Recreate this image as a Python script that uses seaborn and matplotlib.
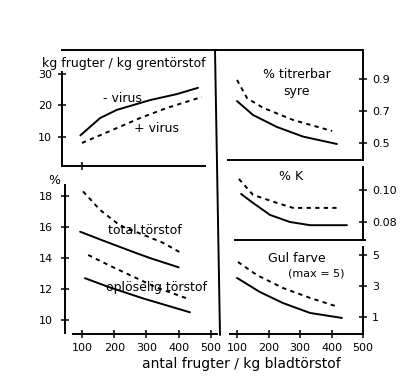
import matplotlib
matplotlib.use("Agg")
import matplotlib.pyplot as plt
from matplotlib.lines import Line2D
import seaborn as sns

W, H = 418, 388

# kg frugter / kg grentørstof
tl_minus_x = [95, 156, 208, 311, 394, 460]
tl_minus_y = [10.5, 16.0, 18.6, 21.7, 23.6, 25.6]
tl_plus_x = [100, 187, 280, 363, 472]
tl_plus_y = [8.1, 11.9, 16.0, 19.2, 22.7]

# % total / opløselig tørstof
total_solid_x = [94, 156, 258, 311, 400]
total_solid_y = [15.7, 15.2, 14.4, 14.0, 13.4]
total_dash_x = [103, 156, 218, 350, 410]
total_dash_y = [18.3, 17.1, 16.1, 15.0, 14.3]
sol_dash_x = [119, 187, 331, 425]
sol_dash_y = [14.2, 13.5, 12.1, 11.4]
sol_solid_x = [109, 187, 289, 435]
sol_solid_y = [12.7, 12.1, 11.4, 10.5]

# % titrerbar syre
tit_solid_x = [100, 151, 227, 310, 417]
tit_solid_y = [0.762, 0.675, 0.60, 0.54, 0.494]
tit_dash_x = [100, 132, 183, 278, 402]
tit_dash_y = [0.894, 0.78, 0.72, 0.644, 0.575]

# % K
k_solid_x = [113, 151, 205, 268, 332, 449]
k_solid_y = [0.0975, 0.0919, 0.0844, 0.080, 0.078, 0.078]
k_dash_x = [106, 151, 227, 278, 421]
k_dash_y = [0.1069, 0.0969, 0.0919, 0.0888, 0.0888]

# Gul farve
gul_solid_x = [100, 173, 246, 332, 433]
gul_solid_y = [3.52, 2.61, 1.9, 1.26, 0.94]
gul_dash_x = [103, 163, 246, 332, 421]
gul_dash_y = [4.55, 3.71, 2.87, 2.23, 1.65]

X_TICKS = [100, 200, 300, 400, 500]
DASH = (0, (2.2, 2.2))


def box(left, top, right, bottom):
    return [left / W, 1 - bottom / H, (right - left) / W, (bottom - top) / H]


def style(ax):
    for s in ax.spines.values():
        s.set_visible(False)
        s.set_linewidth(1.4)
        s.set_color("black")
    ax.tick_params(direction="inout", length=6, width=1.1, labelsize=8,
                   colors="black", labelcolor="black")
    ax.set_xticks([])
    ax.set_yticks([])
    ax.set_xlabel("")
    ax.set_ylabel("")
    ax.patch.set_alpha(0)


def line(ax, x, y, dashed=False):
    sns.lineplot(x=x, y=y, ax=ax, color="black", linewidth=1.4,
                 linestyle=DASH if dashed else "-")


def ftext(x, y, s, size=9, ha="center"):
    fig.text(x / W, 1 - y / H, s, fontsize=size, ha=ha, va="center", color="black")


sns.set_theme(style="white")
plt.rcParams["font.family"] = ["DejaVu Sans"]
fig = plt.figure(figsize=(W / 100, H / 100), dpi=100)

# top left
ax1 = fig.add_axes(box(62, 50, 217, 166))
line(ax1, tl_minus_x, tl_minus_y)
line(ax1, tl_plus_x, tl_plus_y, dashed=True)
style(ax1)
ax1.set_xlim(38, 519)
ax1.set_ylim(0.8, 37.6)
ax1.spines["left"].set_visible(True)
ax1.spines["left"].set_bounds(0.8, 30.6)
ax1.spines["top"].set_visible(True)
ax1.spines["bottom"].set_visible(True)
ax1.spines["bottom"].set_bounds(38, 481)
ax1.set_yticks([10, 20, 30])
ax1.set_xticks([100], labels=[""])
ax1.tick_params(left=True, bottom=True, pad=4)

# bottom left
ax3 = fig.add_axes(box(65, 166, 217, 334))
line(ax3, total_solid_x, total_solid_y)
line(ax3, total_dash_x, total_dash_y, dashed=True)
line(ax3, sol_dash_x, sol_dash_y, dashed=True)
line(ax3, sol_solid_x, sol_solid_y)
style(ax3)
ax3.set_xlim(47, 519)
ax3.set_ylim(9.1, 19.94)
ax3.spines["left"].set_visible(True)
ax3.spines["left"].set_bounds(9.16, 18.7)
ax3.spines["bottom"].set_visible(True)
ax3.spines["bottom"].set_bounds(72, 519)
ax3.set_yticks([10, 12, 14, 16, 18])
ax3.set_xticks(X_TICKS)
ax3.tick_params(left=True, bottom=True)
ax3.tick_params(axis="y", pad=6)

# right: titrerbar syre
ax2 = fig.add_axes(box(217, 50, 363, 160))
line(ax2, tit_solid_x, tit_solid_y)
line(ax2, tit_dash_x, tit_dash_y, dashed=True)
style(ax2)
ax2.set_xlim(36.5, 500)
ax2.set_ylim(0.394, 1.081)
ax2.spines["top"].set_visible(True)
ax2.spines["right"].set_visible(True)
ax2.spines["bottom"].set_visible(True)
ax2.spines["bottom"].set_bounds(71, 500)
ax2.yaxis.tick_right()
ax2.set_yticks([0.5, 0.7, 0.9], labels=["0.5", "0.7", "0.9"])
ax2.tick_params(right=True, left=False)

# right: % K
ax4 = fig.add_axes(box(217, 165, 363, 240))
line(ax4, k_solid_x, k_solid_y)
line(ax4, k_dash_x, k_dash_y, dashed=True)
style(ax4)
ax4.set_xlim(36.5, 500)
ax4.set_ylim(0.06875, 0.1156)
ax4.spines["right"].set_visible(True)
ax4.spines["right"].set_bounds(0.06875, 0.1144)
ax4.spines["bottom"].set_visible(True)
ax4.spines["bottom"].set_bounds(94, 505)
ax4.yaxis.tick_right()
ax4.set_yticks([0.08, 0.10], labels=["0.08", "0.10"])
ax4.tick_params(right=True, left=False)

# right: Gul farve
ax5 = fig.add_axes(box(217, 245, 363, 334))
line(ax5, gul_solid_x, gul_solid_y)
line(ax5, gul_dash_x, gul_dash_y, dashed=True)
style(ax5)
ax5.set_xlim(36.5, 500)
ax5.set_ylim(-0.097, 5.645)
ax5.spines["right"].set_visible(True)
ax5.spines["right"].set_bounds(-0.097, 5.516)
ax5.spines["bottom"].set_visible(True)
ax5.spines["bottom"].set_bounds(78, 500)
ax5.yaxis.tick_right()
ax5.set_yticks([1, 3, 5])
ax5.set_xticks(X_TICKS)
ax5.tick_params(right=True, left=False, bottom=True)

# middle divider
fig.add_artist(Line2D([215 / W, 220 / W], [1 - 50 / H, 1 - 335 / H],
                      color="black", linewidth=1.4, transform=fig.transFigure))

ftext(124, 63, "kg frugter / kg grentörstof", size=9)
ftext(122, 99, "- virus")
ftext(156, 128, "+ virus")
ftext(297, 75, "% titrerbar")
ftext(297, 92, "syre")
ftext(291, 177, "% K")
ftext(297, 259, "Gul farve")
ftext(316, 274, "(max = 5)", size=8)
ftext(145, 231, "total törstof")
ftext(157, 287, "oplöselig törstof")
ftext(54, 180, "%")
ftext(241, 364, "antal frugter / kg bladtörstof", size=10)

fig.savefig("out.png", dpi=100)
